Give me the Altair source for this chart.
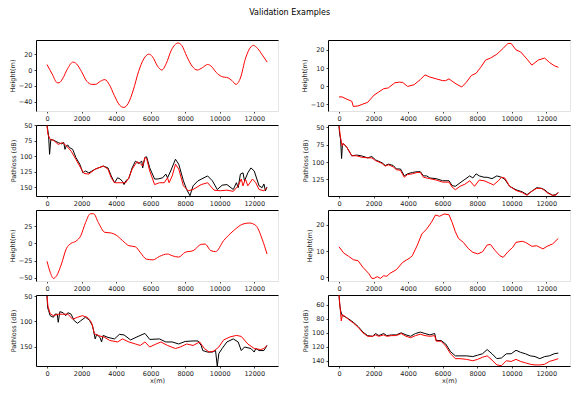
import altair as alt
import pandas as pd

# ---------------- data ----------------
x_ticks = [0, 2000, 4000, 6000, 8000, 10000, 12000]

# Row 1 left: height profile
h1l_x = [0, 300, 600, 700, 900, 1200, 1500, 1700, 2000, 2300, 2600, 2800, 3100, 3350, 3600, 3900,
         4200, 4450, 4700, 5000, 5300, 5600, 5900, 6100, 6400, 6650, 6900, 7200, 7600, 7800, 8100,
         8400, 8700, 9000, 9300, 9500, 9800, 10100, 10500, 10700, 10950, 11200, 11500, 11800, 11950,
         12200, 12500, 12750]
h1l_y = [7, -5, -16, -16, -11, 2, 10, 8, -2, -14, -18, -18, -14, -12, -18, -32,
         -44, -47, -42, -25, -2, 14, 20, 17, 5, 0, 8, 25, 34, 31, 17,
         5, 0, 3, 7, 5, -3, -8, -10, -13, -18, -10, 15, 29, 31,
         27, 18, 10]

# Row 1 right: height profile
h1r_x = [0, 180, 460, 740, 830, 1100, 1380, 1660, 2030, 2300, 2580, 2860, 3230, 3500, 3690, 3970,
         4340, 4710, 4980, 5260, 5630, 6000, 6180, 6370, 6550, 6830, 7110, 7380, 7660, 7940, 8210,
         8490, 8770, 9140, 9510, 9780, 9970, 10250, 10520, 10890, 11170, 11540, 11910, 12180, 12460, 12700]
h1r_y = [-6, -6, -7.3, -8.4, -11.3, -11, -10, -9, -5, -3.3, -1.5, -1, 1.8, 2.2, 2, -0.2,
         0.7, 3.6, 6.2, 5, 4, 3, 3, 4, 2.7, 0.9, -0.5, 2.2, 5.8, 7.1, 10.4,
         14.4, 15.5, 17.6, 20.9, 23.6, 23.6, 20, 18.9, 14.9, 11.6, 14.4, 15.5, 13.1, 11.3, 10.4]

# Row 2 left: pathloss, measured (black) and predicted (red)
p2l_mx = [0, 37, 93, 150, 220, 370, 650, 840, 970, 1040, 1120, 1210, 1300, 1490, 1670, 1900, 2080,
          2230, 2420, 2790, 3260, 3530, 3720, 3910, 4090, 4240, 4370, 4460, 4560, 4740, 4930, 5120,
          5300, 5490, 5540, 5670, 5770, 5950, 6230, 6420, 6700, 6880, 6980, 7160, 7440, 7630, 7900,
          8090, 8280, 8460, 8740, 9300, 9580, 9860, 10140, 10420, 10790, 10970, 11070, 11200, 11350,
          11440, 11630, 11810, 12000, 12280, 12460, 12560, 12650, 12740]
p2l_my = [50, 56, 67, 97, 73, 74, 78, 80, 78, 89, 83, 82, 86, 89, 102, 113, 127,
          124, 127, 121, 116, 119, 132, 143, 135, 137, 141, 146, 140, 136, 119, 108,
          112, 108, 119, 102, 101, 119, 137, 137, 135, 129, 135, 124, 105, 113, 140,
          154, 164, 148, 140, 132, 140, 154, 147, 146, 154, 143, 151, 129, 127,
          140, 127, 119, 124, 148, 151, 145, 156, 150]
p2l_px = [0, 56, 190, 370, 650, 890, 1120, 1400, 1670, 1950, 2140, 2420, 2790, 3260, 3530, 3720,
          3910, 4280, 4560, 4740, 4930, 5210, 5400, 5540, 5670, 5770, 5950, 6230, 6510, 6790, 6980,
          7070, 7250, 7440, 7630, 7900, 8180, 8460, 8930, 9300, 9670, 10040, 10420, 10790, 11070,
          11250, 11350, 11490, 11630, 11900, 12090, 12280, 12560, 12740]
p2l_py = [50, 65, 73, 74, 81, 78, 83, 92, 105, 119, 128, 129, 121, 116, 121, 135,
          143, 143, 143, 135, 121, 109, 112, 116, 102, 104, 124, 146, 143, 143, 135,
          143, 132, 113, 121, 148, 156, 154, 146, 143, 155, 156, 155, 157, 148,
          137, 148, 137, 148, 137, 143, 154, 156, 151]

# Row 2 right: pathloss
p2r_mx = [0, 37, 92, 150, 200, 280, 460, 740, 1020, 1290, 1660, 1900, 2120, 2490, 2680, 2860, 3140,
          3320, 3560, 3780, 3970, 4250, 4520, 4710, 4890, 5080, 5260, 5630, 6000, 6370, 6550, 6740,
          7010, 7290, 7570, 7750, 7940, 8120, 8400, 8580, 8860, 9140, 9410, 9600, 9880, 10250, 10610,
          10890, 11170, 11450, 11720, 11910, 12090, 12370, 12550, 12700]
p2r_my = [48, 60, 67, 95, 74, 74, 79, 91, 90, 91, 94, 92, 97, 101, 105, 103, 105,
          110, 110, 120, 117, 115, 114, 114, 120, 120, 123, 124, 127, 127, 134, 135,
          130, 125, 120, 123, 117, 120, 122, 122, 124, 120, 122, 125, 135, 140, 143,
          147, 142, 137, 138, 140, 144, 148, 147, 144]
p2r_px = [0, 92, 185, 240, 460, 740, 1020, 1290, 1660, 1900, 2120, 2490, 2680, 2860, 3140, 3320,
          3560, 3780, 3970, 4250, 4520, 4710, 4890, 5080, 5260, 5630, 6000, 6370, 6550, 6740, 7010,
          7290, 7570, 7850, 8120, 8400, 8680, 8950, 9230, 9410, 9600, 9880, 10250, 10610, 10890,
          11170, 11450, 11720, 11910, 12090, 12370, 12550, 12700]
p2r_py = [48, 65, 77, 73, 79, 91, 91, 93, 94, 94, 98, 102, 106, 104, 107, 111,
          112, 122, 118, 117, 115, 115, 122, 123, 124, 126, 129, 129, 136, 140, 135,
          132, 127, 135, 126, 127, 130, 133, 127, 122, 123, 135, 141, 144, 148,
          142, 138, 138, 141, 145, 148, 148, 144]

# Row 3 left: height profile
h3l_x = [0, 186, 372, 558, 837, 1116, 1395, 1674, 1953, 2232, 2511, 2697, 2976, 3348, 3720, 3999,
         4371, 4743, 5115, 5394, 5766, 6138, 6510, 6975, 7254, 7626, 7998, 8463, 8928, 9150, 9486,
         9765, 10230, 10788, 11346, 11718, 12090, 12462, 12741]
h3l_y = [-26, -42, -51, -47, -30, -8, 0, 3, 11, 30, 43, 43, 30, 16, 15, 12,
         4, -3.4, -5, -13, -23, -24, -19, -15.5, -18, -20, -13, -10.6, -1.5, -1, -10.6,
         -12, 4, 18, 28, 29.5, 26, 6, -15.5]

# Row 3 right: height profile
h3r_x = [0, 277, 554, 830, 1108, 1385, 1717, 1900, 2030, 2215, 2400, 2585, 2770, 2950, 3320, 3690,
         4060, 4245, 4520, 4800, 5080, 5350, 5590, 5820, 6090, 6370, 6550, 6740, 6920, 7200, 7480,
         7750, 8030, 8310, 8580, 8770, 9050, 9320, 9510, 9780, 10060, 10250, 10610, 10800, 11170,
         11450, 11810, 12050, 12370, 12700]
h3r_y = [11.6, 9.2, 8, 6.7, 6.3, 3.8, 1.5, -0.4, -0.4, 0.25, -0.4, 0.6, 0.4, 1.5, 2.9, 5.7,
         7.2, 8.2, 12, 16.5, 18.4, 20.9, 23.7, 23.2, 24.1, 23.8, 20.9, 17.3, 14.8, 13.3, 11,
         9.5, 8.9, 9.7, 12.3, 12.5, 10.1, 8.2, 7.6, 9.7, 11.4, 13.3, 13.7, 13.3, 11.8,
         12, 10.8, 11.8, 12.7, 14.8]

# Row 4 left: pathloss
p4l_mx = [0, 37, 93, 186, 372, 465, 595, 650, 745, 930, 1080, 1210, 1395, 1580, 1770, 1950, 2230,
          2460, 2640, 2790, 2880, 3070, 3160, 3250, 3530, 3910, 4190, 4460, 4840, 5210, 5670, 5950,
          6510, 6880, 7250, 7630, 8000, 8460, 8740, 8930, 9020, 9300, 9580, 9760, 9860, 9950, 10140,
          10420, 10790, 11070, 11250, 11440, 11810, 12000, 12090, 12280, 12560, 12740]
p4l_my = [50, 73, 79, 89, 92, 86, 86, 102, 81, 83, 89, 83, 86, 99, 104, 99, 92,
          98, 109, 135, 126, 132, 141, 128, 132, 135, 126, 127, 137, 131, 124, 136,
          135, 141, 141, 145, 140, 139, 139, 148, 158, 161, 161, 158, 189, 164, 154,
          141, 135, 141, 158, 151, 154, 161, 154, 158, 158, 148]
p4l_px = [0, 56, 186, 372, 650, 930, 1210, 1490, 1770, 2050, 2330, 2570, 2750, 2940, 3350, 3630,
          4090, 4370, 4740, 5120, 5400, 5670, 5950, 6320, 6600, 6980, 7440, 7720, 8090, 8460, 8840,
          9110, 9390, 9670, 9950, 10230, 10600, 10970, 11250, 11630, 12000, 12370, 12560, 12740]
p4l_py = [50, 70, 85, 89, 86, 86, 86, 96, 92, 89, 92, 102, 125, 128, 132, 138,
          141, 135, 141, 145, 148, 141, 151, 145, 141, 148, 154, 151, 145, 148, 141,
          154, 161, 159, 151, 137, 131, 128, 130, 145, 154, 156, 154, 148]

# Row 4 right: pathloss
p4r_mx = [0, 37, 92, 150, 203, 277, 554, 830, 1108, 1385, 1660, 1940, 2120, 2310, 2580, 2770, 3050,
          3320, 3600, 3880, 4150, 4430, 4710, 4980, 5260, 5540, 5630, 5910, 6180, 6460, 6740, 7010,
          7380, 7750, 8030, 8310, 8580, 8860, 9140, 9410, 9690, 9970, 10250, 10520, 10800, 11080,
          11350, 11630, 11910, 12180, 12460, 12700]
p4r_my = [46, 59, 68, 73, 76, 76, 80, 85, 91, 99, 104, 105, 101, 104, 101, 104, 103,
          103, 100, 103, 105, 101, 99, 101, 103, 101, 111, 111, 116, 127, 133, 133,
          133, 134, 132, 130, 124, 130, 137, 136, 130, 130, 125, 128, 130, 133,
          134, 137, 134, 133, 130, 129]
p4r_px = [0, 55, 130, 203, 370, 554, 830, 1108, 1385, 1660, 1940, 2120, 2310, 2580, 2770, 3050,
          3320, 3600, 3880, 4150, 4430, 4710, 4980, 5260, 5540, 5630, 5910, 6180, 6460, 6740, 7010,
          7380, 7750, 8030, 8310, 8580, 8860, 9140, 9410, 9690, 9970, 10250, 10520, 10800, 11080,
          11350, 11630, 11910, 12180, 12460, 12700]
p4r_py = [46, 61, 83, 74, 77, 81, 86, 92, 100, 105, 105, 103, 105, 103, 105, 104,
          104, 101, 105, 107, 104, 102, 104, 105, 104, 112, 112, 119, 130, 137, 137,
          138, 140, 138, 135, 133, 139, 146, 147, 140, 141, 138, 141, 143, 145,
          146, 146, 145, 141, 139, 137]

# ---------------- chart ----------------
FONT = "DejaVu Sans"
X_DOMAIN = [-637, 13377]
W_L, W_R, H = 242, 242, 71


def panel(series, ydom, yticks, ytitle, reverse, width, xtitle, bottom_black, interp):
    xs = alt.Scale(domain=X_DOMAIN, nice=False, zero=False)
    ys = alt.Scale(domain=ydom, nice=False, zero=False, reverse=reverse)
    yenc = alt.Y("y:Q", scale=ys,
                 axis=alt.Axis(values=yticks, title=ytitle, grid=False, domainColor="#000000",
                               tickColor="#444444", tickSize=2, labelPadding=2, titlePadding=3))
    bottom_axis = alt.Axis(values=x_ticks, format="d", grid=False, domain=True,
                           domainColor="#000000" if bottom_black else "#e2e2e2",
                           tickColor="#444444", tickSize=2, labelPadding=2, titlePadding=1,
                           title=xtitle)
    layers = []
    for i, (xv, yv, color) in enumerate(series):
        df = pd.DataFrame({"x": xv, "y": yv})
        if i == 0:
            xenc = alt.X("x:Q", scale=xs, axis=bottom_axis)
        else:
            xenc = alt.X("x:Q", scale=xs, axis=None)
        layers.append(alt.Chart(df).mark_line(color=color, strokeWidth=1, clip=True,
                                              interpolate=interp)
                      .encode(x=xenc, y=yenc))
    xv, yv, _ = series[-1]
    top = alt.Chart(pd.DataFrame({"x": xv, "y": yv})).mark_line(opacity=0).encode(
        x=alt.X("x:Q", scale=xs, axis=alt.Axis(orient="top", labels=False, ticks=False, grid=False,
                                               domain=True, domainColor="#000000", title=None)),
        y=yenc)
    return alt.layer(*layers, top).resolve_axis(x="independent").properties(width=width, height=H)


charts = [
    panel([(h1l_x, h1l_y, "#ff0000")], [-51.5, 37.8], [-40, -20, 0, 20], "Height(m)", False, W_L,
          None, False, "monotone"),
    panel([(h1r_x, h1r_y, "#ff0000")], [-13.8, 25.5], [-10, 0, 10, 20], "Height(m)", False, W_R,
          None, False, "linear"),
    panel([(p2l_mx, p2l_my, "#000000"), (p2l_px, p2l_py, "#ff0000")], [49.5, 164.5],
          [50, 75, 100, 125, 150], "Pathloss (dB)", True, W_L, None, True, "linear"),
    panel([(p2r_mx, p2r_my, "#000000"), (p2r_px, p2r_py, "#ff0000")], [46.6, 149],
          [50, 75, 100, 125], "Pathloss (dB)", True, W_R, None, True, "linear"),
    panel([(h3l_x, h3l_y, "#ff0000")], [-54.7, 48.4], [-50, -25, 0, 25], "Height(m)", False, W_L,
          None, False, "monotone"),
    panel([(h3r_x, h3r_y, "#ff0000")], [-1.4, 25.6], [0, 10, 20], "Height(m)", False, W_R,
          None, False, "linear"),
    panel([(p4l_mx, p4l_my, "#000000"), (p4l_px, p4l_py, "#ff0000")], [48, 188.6],
          [50, 100, 150], "Pathloss (dB)", True, W_L, "x(m)", True, "linear"),
    panel([(p4r_mx, p4r_my, "#000000"), (p4r_px, p4r_py, "#ff0000")], [45.9, 147.5],
          [60, 80, 100, 120, 140], "Pathloss (dB)", True, W_R, "x(m)", True, "linear"),
]

chart = alt.concat(*charts, columns=2, spacing={"row": 14, "column": 50}, bounds="flush").properties(
    title=alt.Title("Validation Examples", fontSize=8, fontWeight="normal", font=FONT,
                    anchor="middle", color="#000000", offset=23),
    padding=0
).configure(
    background="white"
).configure_view(
    stroke="#e6e6e6", strokeWidth=1
).configure_axis(
    labelFont=FONT, titleFont=FONT, labelFontSize=6.5, titleFontSize=6.5,
    labelColor="#222222", titleColor="#222222", titleFontWeight="normal"
)

chart.save("out.html", embed_options={"renderer": "svg", "actions": False})
